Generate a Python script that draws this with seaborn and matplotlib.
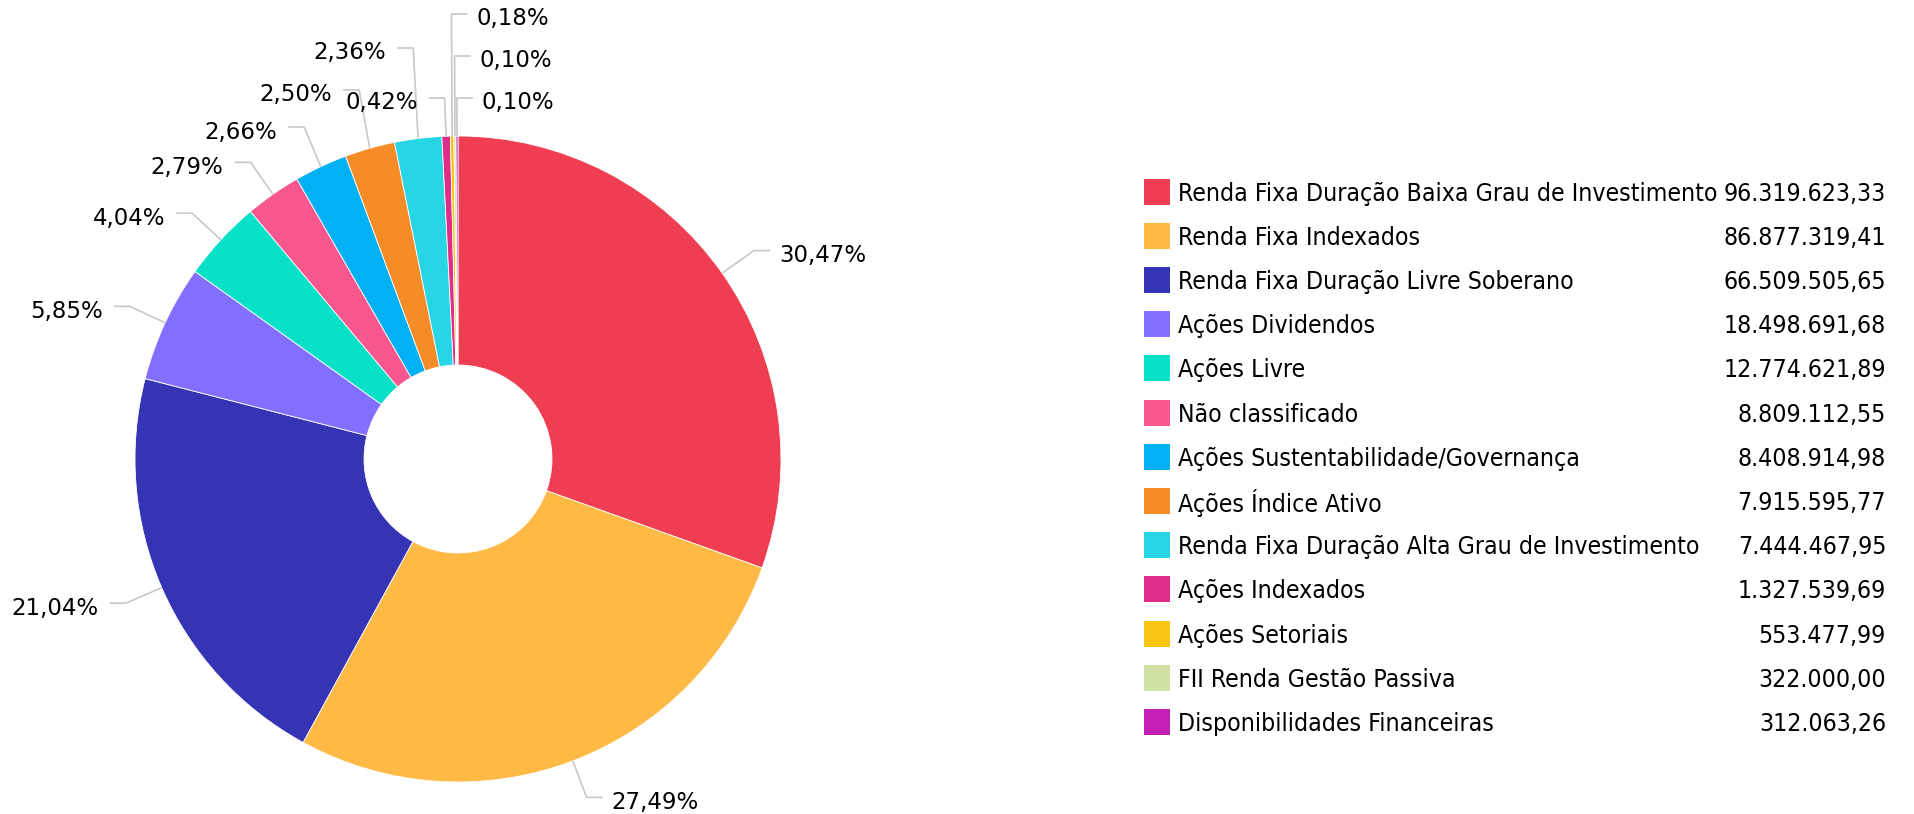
import numpy as np
import matplotlib
matplotlib.use("Agg")
import matplotlib.pyplot as plt
from matplotlib.patches import Rectangle
import seaborn as sns

CATEGORIES = [
    "Renda Fixa Duração Baixa Grau de Investimento",
    "Renda Fixa Indexados",
    "Renda Fixa Duração Livre Soberano",
    "Ações Dividendos",
    "Ações Livre",
    "Não classificado",
    "Ações Sustentabilidade/Governança",
    "Ações Índice Ativo",
    "Renda Fixa Duração Alta Grau de Investimento",
    "Ações Indexados",
    "Ações Setoriais",
    "FII Renda Gestão Passiva",
    "Disponibilidades Financeiras",
]
VALUES = [
    96319623.33, 86877319.41, 66509505.65, 18498691.68, 12774621.89,
    8809112.55, 8408914.98, 7915595.77, 7444467.95, 1327539.69,
    553477.99, 322000.00, 312063.26,
]
COLORS = [
    "#EF3D52", "#FFBA45", "#3434B4", "#836FFF", "#08E0C8", "#F7568E",
    "#02B1F3", "#F68C28", "#28D5E4", "#DE2E89", "#F8C513", "#CFE2A4",
    "#C41FB6",
]

# label placement for the crowded small slices (side, y of leader line in px)
LABEL_SIDE = [None] * 9 + ["l", "r", "r", "r"]
LABEL_Y = [None, None, None, None, None, None, 127, 90, 48, 98, 14, 56, 98]

W, H = 1914, 814
CX, CY = 458, 459
R_OUT, R_IN = 323, 94
LINE_C = "#c8c8c8"

sns.set_theme(style="white")
plt.rcParams["font.family"] = ["DejaVu Sans"]

fig = plt.figure(figsize=(W / 100, H / 100), dpi=100, facecolor="white")
ax = fig.add_axes([0, 0, 1, 1])


def fy(y):
    return H - y


def br(v, nd=2):
    s = f"{v:,.{nd}f}"
    return s.replace(",", "X").replace(".", ",").replace("X", ".")


total = sum(VALUES)
pcts = [v / total * 100 for v in VALUES]

wedges, _ = ax.pie(
    VALUES, colors=COLORS, startangle=90, counterclock=False,
    center=(CX, fy(CY)), radius=R_OUT,
    wedgeprops=dict(width=R_OUT - R_IN, edgecolor="white", linewidth=0.6),
)
ax.set_xlim(0, W)
ax.set_ylim(0, H)
ax.axis("off")

# data labels with elbow connectors
for w, p, side, ly in zip(wedges, pcts, LABEL_SIDE, LABEL_Y):
    th = np.deg2rad((w.theta1 + w.theta2) / 2)
    x0 = CX + R_OUT * np.cos(th)
    y0 = CY - R_OUT * np.sin(th)
    ex = CX + (R_OUT + 39) * np.cos(th)
    ey = CY - (R_OUT + 39) * np.sin(th) if ly is None else ly
    if side is None:
        side = "r" if np.cos(th) >= 0 else "l"
    sgn = 1 if side == "r" else -1
    hx = ex + sgn * 16
    ax.plot([x0, ex, hx], [fy(y0), fy(ey), fy(ey)], color=LINE_C, lw=1.2,
            solid_capstyle="butt")
    tx = hx + (9 if side == "r" else -11)
    ax.text(tx, fy(ey + 5), br(p) + "%", fontsize=16.5, color="#000000",
            ha="left" if side == "r" else "right", va="center")

# legend with values
leg_font = dict(family=["DejaVu Sans Condensed", "DejaVu Sans"], fontstretch="condensed",
                fontsize=17.8, color="#000000", va="center")
for i, (cat, val, col) in enumerate(zip(CATEGORIES, VALUES, COLORS)):
    ry = 191.6 + 44.2 * i
    ax.add_patch(Rectangle((1144, fy(ry + 13)), 26, 26, facecolor=col, edgecolor="none"))
    ax.text(1178, fy(ry + 2), cat, ha="left", **leg_font)
    ax.text(1886, fy(ry + 2), br(val), ha="right", **leg_font)

fig.savefig("out.png", dpi=100, facecolor="white")
